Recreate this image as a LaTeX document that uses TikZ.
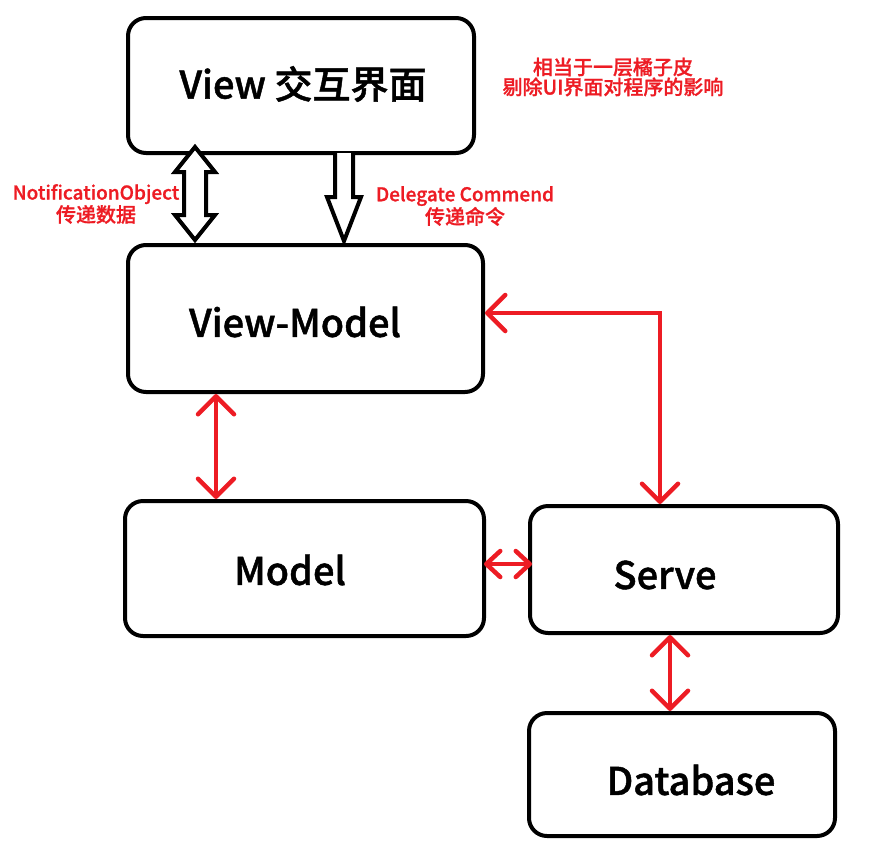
\documentclass[tikz,border=0pt]{standalone}
\usepackage{fontspec}
\IfFontExistsTF{Noto Sans CJK SC Medium}
  {\newfontfamily\cjk{Noto Sans CJK SC Medium}[FakeBold=1.2]
   \newfontfamily\cjkr{Noto Sans CJK SC Medium}[FakeBold=1.0]}
  {\newfontfamily\cjk{Noto Sans CJK SC}[UprightFont=*-Bold]
   \newfontfamily\cjkr{Noto Sans CJK SC}[UprightFont=*-Bold]}
\usetikzlibrary{arrows.meta}
\definecolor{pred}{RGB}{237,28,36}
\newcommand{\lat}{\fontsize{19}{26}\selectfont}
\newcommand{\han}{\fontsize{20}{26}\selectfont}
\tikzset{
  box/.style={draw=black, line width=4pt, rounded corners=18pt, inner sep=0pt, fill=white},
  bigtext/.style={font=\cjk\fontsize{38}{40}\selectfont, inner sep=0pt},
  redtext/.style={font=\cjkr, text=pred, inner sep=0pt, align=center},
  redarrow/.style={draw=pred, line width=4.5pt, line cap=round,
    {Straight Barb[length=18pt,width=36pt,line cap=round,line join=round]}-{Straight Barb[length=18pt,width=36pt,line cap=round,line join=round]}},
  smallhead/.style={{Straight Barb[length=14pt,width=26pt,line cap=round,line join=round]}-{Straight Barb[length=14pt,width=26pt,line cap=round,line join=round]}},
  hollow/.style={draw=black, line width=4pt, fill=white, line join=miter}
}
\begin{document}
\begin{tikzpicture}[x=1pt,y=-1pt]
\useasboundingbox (0,0) rectangle (888,849);
% boxes
\node[box, minimum width=346pt, minimum height=135pt] (view) at (301,85.5) {};
\node[box, minimum width=355pt, minimum height=147pt] (vm) at (305.5,318.5) {};
\node[box, minimum width=359pt, minimum height=135pt] (model) at (304.5,568.5) {};
\node[box, minimum width=308pt, minimum height=127pt] (serve) at (684,569.5) {};
\node[box, minimum width=306pt, minimum height=123pt] (db) at (682,774.5) {};
% texts
\node[bigtext] (tview) at (303,84) {View 交互界面};
\node[bigtext] (tvm) at (295,322) {View-Model};
\node[bigtext] (tmodel) at (290,570) {Model};
\node[bigtext] (tserve) at (665,575) {Serve};
\node[bigtext] (tdb) at (691,780) {Database};
% red annotations
\node[redtext] (n1) at (613,77) {\han 相当于一层橘子皮\\\han 剔除UI界面对程序的影响};
\node[redtext] (n2) at (96,204) {\lat NotificationObject\\\han 传递数据};
\node[redtext] (n3) at (465,206) {\lat Delegate Commend\\\han 传递命令};
% hollow double arrow
\draw[hollow] (195,147) -- (175,172) -- (184,172) -- (184,215) -- (175,215) -- (195,240)
  -- (215,215) -- (206,215) -- (206,172) -- (215,172) -- cycle;
% hollow single arrow
\draw[hollow] (335,153) -- (335,197) -- (327,197) -- (344,241) -- (361,197) -- (353,197) -- (353,153);
% red connectors
\coordinate (c1) at (216,0);
\coordinate (c2) at (660,313);
\coordinate (c3) at (0,564);
\coordinate (c4) at (670,0);
\draw[redarrow] (vm.south -| c1) -- (model.north -| c1);
\draw[redarrow] (vm.east |- c2) -- (c2) -- (serve.north -| c2);
\draw[redarrow, smallhead] ([xshift=-2pt]model.east |- c3) -- ([xshift=4pt]serve.west |- c3);
\draw[redarrow] (serve.south -| c4) -- (db.north -| c4);
\end{tikzpicture}
\end{document}
